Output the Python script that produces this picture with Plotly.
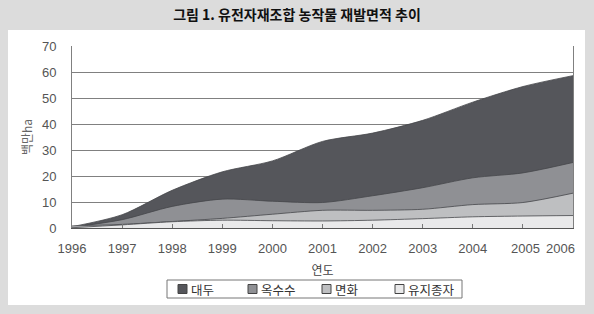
import plotly.graph_objects as go

years = [1996, 1997, 1998, 1999, 2000, 2001, 2002, 2003, 2004, 2005, 2006]
soybean = [0.5, 5.1, 14.5, 21.6, 25.8, 33.3, 36.5, 41.4, 48.4, 54.4, 58.6]
maize = [0.3, 3.2, 8.3, 11.1, 10.3, 9.8, 12.4, 15.5, 19.3, 21.2, 25.2]
cotton = [0.8, 1.4, 2.5, 3.7, 5.3, 6.8, 6.8, 7.2, 9.0, 9.8, 13.4]
canola = [0.1, 1.2, 2.4, 3.0, 2.8, 2.7, 3.0, 3.6, 4.3, 4.6, 4.8]

series_names = ["대두", "옥수수", "면화", "유지종자"]
series_values = [soybean, maize, cotton, canola]
series_colors = ["#55565b", "#8f9094", "#bebfc1", "#e9e9ea"]

xtick_labels = ["1996", "1997", "1998", "1999", "2000", "2001",
                "2002", "2003", "2004", "2005", "2006"]
xlabel_pos = [1996, 1997, 1998, 1999, 2000, 2001, 2002, 2003, 2004, 2005.05, 2005.75]
ytick_vals = [0, 10, 20, 30, 40, 50, 60, 70]

FONT = "Noto Sans CJK KR"
NUMFONT = "Liberation Sans, Arial, Noto Sans CJK KR"

W, H = 594, 314
L, R, T, B = 72, 21, 46, 86
pw, ph = W - L - R, H - T - B


def px(x):
    return (x - L) / pw


def py(y):
    return (H - B - y) / ph


fig = go.Figure()
for name, vals, col in zip(series_names, series_values, series_colors):
    fig.add_trace(go.Scatter(
        x=years, y=vals, mode="lines", fill="tozeroy", name=name,
        fillcolor=col, line=dict(color="#45464a", width=0.8, shape="spline", smoothing=0.8),
        showlegend=False, hoverinfo="skip"))

# tick marks on a separate overlaying axis
fig.add_trace(go.Scatter(x=[None], y=[None], xaxis="x2", showlegend=False))

# white panel
fig.add_shape(type="rect", xref="paper", yref="paper", layer="below",
              x0=px(8), x1=px(585), y0=py(305), y1=py(30),
              fillcolor="white", line=dict(width=0))

# legend box (manual, built from the series names / colours)
fig.add_shape(type="rect", xref="paper", yref="paper",
              x0=px(167), x1=px(462), y0=py(298), y1=py(280),
              fillcolor="white", line=dict(color="#777777", width=1))
entry_left = [178, 248, 322, 395]
for name, col, xl in zip(series_names, series_colors, entry_left):
    fig.add_shape(type="rect", xref="paper", yref="paper",
                  x0=px(xl), x1=px(xl + 9), y0=py(293.5), y1=py(284.5),
                  fillcolor=col, line=dict(color="#444444", width=1))
    fig.add_annotation(xref="paper", yref="paper", x=px(xl + 11), y=py(289),
                       text=name, showarrow=False, xanchor="left", yanchor="middle",
                       font=dict(family=FONT, size=12.5, color="#333333"))

fig.update_layout(
    width=W, height=H,
    margin=dict(l=L, r=R, t=T, b=B, autoexpand=False),
    paper_bgcolor="#dcdcdc", plot_bgcolor="white",
    showlegend=False,
    font=dict(family=FONT, color="#555555", size=12),
    title=dict(text="<b>그림 1. 유전자재조합 농작물 재발면적 추이</b>",
               x=0.5, xref="container", y=1 - 15 / H, yref="container",
               xanchor="center", yanchor="middle",
               font=dict(family=FONT, size=14, color="#111111")),
    xaxis=dict(range=[1996, 2006], tickvals=xlabel_pos, ticktext=xtick_labels,
               ticks="", showgrid=False, zeroline=False,
               showline=True, linecolor="#555555", linewidth=1.2, mirror=False,
               tickfont=dict(family=NUMFONT, size=13, color="#555555"),
               title=dict(text="연도", font=dict(size=12, color="#444444"), standoff=11),
               ticklabelstandoff=8),
    xaxis2=dict(range=[1996, 2006], overlaying="x", side="bottom",
                tickvals=years[1:-1], ticks="inside", ticklen=4, tickcolor="#777777",
                showticklabels=False, showgrid=False, zeroline=False, showline=False),
    yaxis=dict(range=[0, 70], tickvals=ytick_vals, showgrid=True,
               gridcolor="#808080", gridwidth=1, zeroline=False,
               showline=True, linecolor="#808080", mirror=True,
               ticks="", ticklabelstandoff=12,
               tickfont=dict(family=NUMFONT, size=13, color="#555555"),
               title=dict(text="백만ha", font=dict(size=12, color="#666666"), standoff=6)),
)

fig.write_html("out.html")
